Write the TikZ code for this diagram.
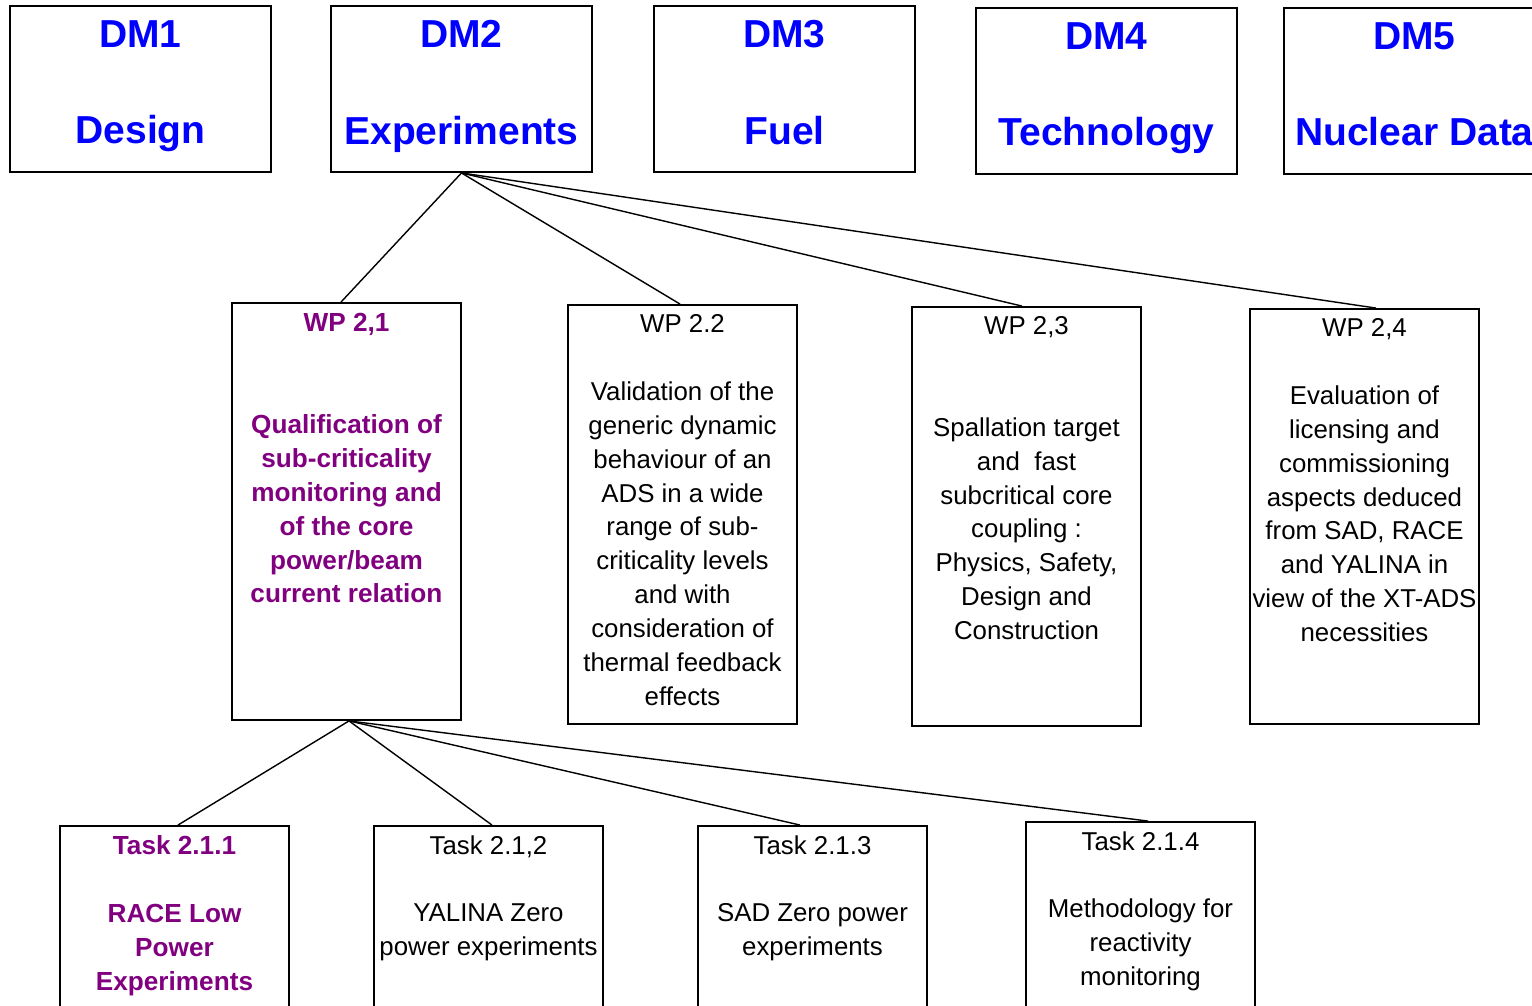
\documentclass[tikz,border=0pt]{standalone}
\usepackage{fontspec}
\setmainfont{Liberation Sans}
\usetikzlibrary{positioning}
\definecolor{dmblue}{RGB}{0,0,255}
\definecolor{wppurple}{RGB}{128,0,128}
\tikzset{
    dmbox/.style={draw, line width=1.1pt, minimum width=5.22cm,
        minimum height=3.32cm, inner sep=0pt},
    wpbox/.style={draw, line width=1.1pt, minimum width=4.58cm, inner sep=0pt},
    dmtext/.style={anchor=north, inner sep=0pt, align=center, text=dmblue,
        font=\fontsize{22.2}{55}\selectfont\bfseries},
    wptext/.style={anchor=north, inner sep=0pt, align=center,
        font=\fontsize{14.7}{19.3}\selectfont},
    wpbold/.style={wptext, text=wppurple,
        font=\fontsize{14.9}{19.3}\selectfont\bfseries},
    link/.style={line width=0.8pt}
}
\begin{document}
\begin{tikzpicture}[x=0.02cm, y=-0.02cm]
        \useasboundingbox (0,0) rectangle (1532,1006);
        \clip (0,0) rectangle (1532,1006);
        % domains
        \node [dmbox] (dm1) at (140.5,89) {};
        \node [dmbox] (dm2) at (461.5,89) {};
        \node [dmbox] (dm3) at (784.5,89) {};
        \node [dmbox] (dm4) at (1106.5,91) {};
        \node [dmbox] (dm5) at (1414.5,91) {};
        \node [dmtext, below=0.3cm of dm1.north] (dm1txt) {DM1\\Design};
        \node [dmtext, below=0.3cm of dm2.north] (dm2txt) {DM2\\Experiments};
        \node [dmtext, below=0.3cm of dm3.north] (dm3txt) {DM3\\Fuel};
        \node [dmtext, below=0.3cm of dm4.north] (dm4txt) {DM4\\Technology};
        \node [dmtext, below=0.3cm of dm5.north] (dm5txt) {DM5\\Nuclear Data};
        % work packages
        \node [wpbox, minimum height=8.34cm] (wp21) at (346.5,511.5) {};
        \node [wpbox, minimum height=8.38cm] (wp22) at (682.5,514.5) {};
        \node [wpbox, minimum height=8.38cm] (wp23) at (1026.5,516.5) {};
        \node [wpbox, minimum height=8.30cm] (wp24) at (1364.5,516.5) {};
        \node [wpbold, below=0.22cm of wp21.north] (wp21txt) {WP 2,1\\[38.6pt]
            Qualification of\\sub-criticality\\monitoring and\\of the core\\
            power/beam\\current relation};
        \node [wptext, below=0.2cm of wp22.north] (wp22txt) {WP 2.2\\[19.3pt]
            Validation of the\\generic dynamic\\behaviour of an\\ADS in a wide\\
            range of sub-\\criticality levels\\and with\\consideration of\\
            thermal feedback\\effects};
        \node [wptext, below=0.2cm of wp23.north] (wp23txt) {WP 2,3\\[38.6pt]
            Spallation target\\and~~fast\\subcritical core\\coupling :\\
            Physics, Safety,\\Design and\\Construction};
        \node [wptext, below=0.2cm of wp24.north] (wp24txt) {WP 2,4\\[19.3pt]
            Evaluation of\\licensing and\\commissioning\\aspects deduced\\
            from SAD, RACE\\and YALINA in\\view of the XT-ADS\\necessities};
        % tasks
        \node [wpbox, minimum height=4.4cm] (t211) at (174.5,936) {};
        \node [wpbox, minimum height=4.4cm] (t212) at (488.5,936) {};
        \node [wpbox, minimum height=4.4cm] (t213) at (812.5,936) {};
        \node [wpbox, minimum height=4.4cm] (t214) at (1140.5,932) {};
        \node [wpbold, below=0.2cm of t211.north] (t211txt) {Task 2.1.1\\[19.3pt]
            RACE Low\\Power\\Experiments};
        \node [wptext, below=0.2cm of t212.north] (t212txt) {Task 2.1,2\\[19.3pt]
            YALINA Zero\\power experiments};
        \node [wptext, below=0.2cm of t213.north] (t213txt) {Task 2.1.3\\[19.3pt]
            SAD Zero power\\experiments};
        \node [wptext, below=0.2cm of t214.north] (t214txt) {Task 2.1.4\\[19.3pt]
            Methodology for\\reactivity\\monitoring};
        % links
        \draw [link] (dm2.south) -- ([xshift=-0.11cm]wp21.north);
        \draw [link] (dm2.south) -- ([xshift=-0.05cm]wp22.north);
        \draw [link] (dm2.south) -- ([xshift=-0.09cm]wp23.north);
        \draw [link] (dm2.south) -- ([xshift=0.23cm]wp24.north);
        \draw [link] ([xshift=0.05cm]wp21.south) -- ([xshift=0.07cm]t211.north);
        \draw [link] ([xshift=0.05cm]wp21.south) -- ([xshift=0.07cm]t212.north);
        \draw [link] ([xshift=0.05cm]wp21.south) -- ([xshift=-0.25cm]t213.north);
        \draw [link] ([xshift=0.05cm]wp21.south) -- ([xshift=0.15cm]t214.north);
    \end{tikzpicture}
\end{document}
